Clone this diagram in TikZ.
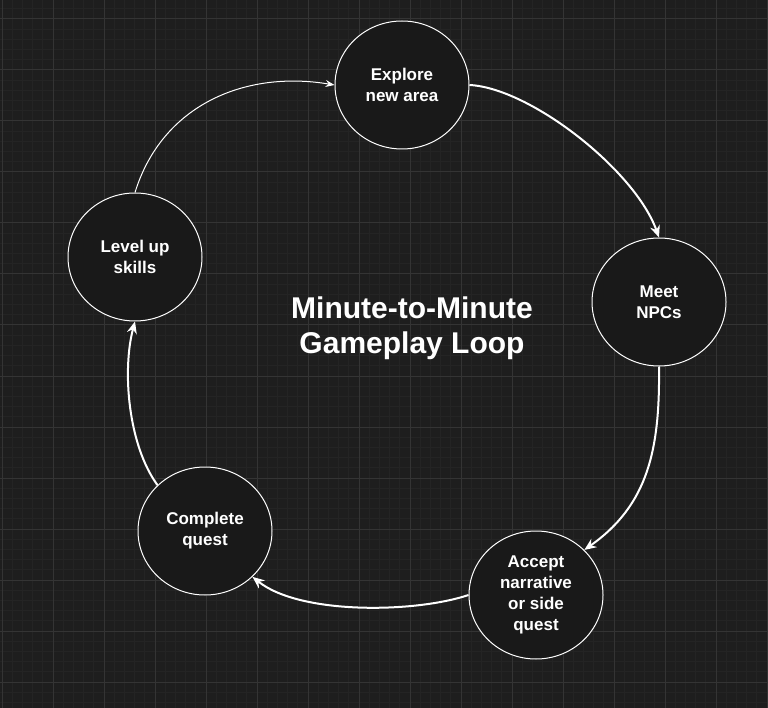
\documentclass[tikz,border=0pt]{standalone}
\usepackage{fontspec}
\setmainfont{Liberation Sans}
\usepackage{tikz}
\usetikzlibrary{shapes.geometric,arrows.meta}
\definecolor{loopbg}{RGB}{30,30,30}
\definecolor{loopminor}{RGB}{36,36,36}
\definecolor{loopmajor}{RGB}{52,52,52}
\definecolor{loopfill}{RGB}{25,25,25}

\begin{document}
\begin{tikzpicture}[x=1pt,y=-1pt,
  stage/.style={draw=white,line width=1pt,ellipse,fill=loopfill,minimum width=134pt,minimum height=128pt,inner sep=0pt,text=white,align=center,font=\fontsize{17}{21}\selectfont\bfseries},
  flow/.style={draw=white,line width=2pt,-{Stealth[length=12pt,width=10pt,inset=4pt]}},
  thinflow/.style={draw=white,line width=1pt,-{Stealth[length=9pt,width=7pt,inset=3pt]}}]
% background and grid
\fill[loopbg] (0,0) rectangle (768,708);
\useasboundingbox (0,0) rectangle (768,708);
\foreach \i in {0,...,75} {\draw[loopminor,line width=1pt] ({2+10.2*\i},0) -- ({2+10.2*\i},708);}
\foreach \j in {0,...,68} {\draw[loopminor,line width=1pt] (0,{8.8+10.2*\j}) -- (768,{8.8+10.2*\j});}
\foreach \i in {0,...,15} {\draw[loopmajor,line width=1pt] ({2+51*\i},0) -- ({2+51*\i},708);}
\foreach \j in {0,...,13} {\draw[loopmajor,line width=1pt] (0,{19+51*\j}) -- (768,{19+51*\j});}
% loop stages
\node[stage] (explore) at (402,85) {Explore\\new area};
\node[stage] (npcs) at (659,302) {Meet\\NPCs};
\node[stage] (accept) at (536,595) {Accept\\narrative\\or side\\quest};
\node[stage] (complete) at (205,531) {Complete\\quest};
\node[stage] (levelup) at (135,257) {Level up\\skills};
\node[text=white,align=center,font=\fontsize{30}{35}\selectfont\bfseries] (title) at (412,328) {Minute-to-Minute\\Gameplay Loop};
% connectors
\draw[thinflow] (levelup.north) .. controls (162,105) and (245,70) .. (explore.west);
\draw[flow] (explore.east) .. controls (530,88) and (635,170) .. (npcs.north);
\draw[flow] (npcs.south) .. controls (660,450) and (648,505) .. (accept.43);
\draw[flow] (accept.west) .. controls (415,613) and (300,615) .. (complete.-44);
\draw[flow] (complete.136) .. controls (128,445) and (122,370) .. (levelup.south);
\end{tikzpicture}
\end{document}
